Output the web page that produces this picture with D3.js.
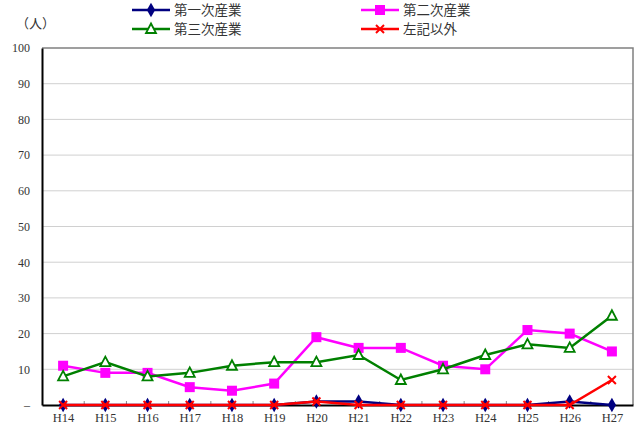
<!DOCTYPE html>
<html>
<head>
<meta charset="utf-8">
<script src="https://cdn.jsdelivr.net/npm/d3@7"></script>
<style>
  body { margin: 0; background: #fff; }
  .tick text { font-family: "Liberation Serif", "DejaVu Serif", serif; }
</style>
</head>
<body>
<div id="chart"></div>
<script>
// data
const years = ["H14","H15","H16","H17","H18","H19","H20","H21","H22","H23","H24","H25","H26","H27"];
const primary   = [0, 0, 0, 0, 0, 0, 1, 1, 0, 0, 0, 0, 1, 0];
const secondary = [11, 9, 9, 5, 4, 6, 19, 16, 16, 11, 10, 21, 20, 15];
const tertiary  = [8, 12, 8, 9, 11, 12, 12, 14, 7, 10, 14, 17, 16, 25];
const other     = [0, 0, 0, 0, 0, 0, 1, 0, 0, 0, 0, 0, 0, 7];
const yTicks = [0, 10, 20, 30, 40, 50, 60, 70, 80, 90, 100];

const series = [
  { name: "第一次産業", values: primary,   color: "#000080", marker: "diamond" },
  { name: "第二次産業", values: secondary, color: "#ff00ff", marker: "square" },
  { name: "第三次産業", values: tertiary,  color: "#008000", marker: "triangle" },
  { name: "左記以外",   values: other,     color: "#ff0000", marker: "cross" }
];

const width = 638, height = 425;
const margin = { top: 48, right: 5, bottom: 20, left: 42 };

const svg = d3.select("#chart").append("svg")
  .attr("width", width).attr("height", height);

const x = d3.scalePoint().domain(years)
  .range([margin.left, width - margin.right]).padding(0.5);
const y = d3.scaleLinear().domain([0, 100])
  .range([height - margin.bottom, margin.top]);

// grid
svg.append("g").selectAll("line")
  .data(yTicks.filter(d => d > 0 && d < 100))
  .join("line")
  .attr("x1", margin.left).attr("x2", width - margin.right)
  .attr("y1", d => y(d)).attr("y2", d => y(d))
  .attr("stroke", "#d0d0d0").attr("stroke-width", 1);

// frame top/right
svg.append("path")
  .attr("d", `M${margin.left},${y(100)}H${width - margin.right}V${y(0)}`)
  .attr("fill", "none").attr("stroke", "#808080").attr("stroke-width", 1.5);

// y axis
const yAxis = svg.append("g")
  .attr("transform", `translate(${margin.left},0)`)
  .call(d3.axisLeft(y).tickValues(yTicks).tickSize(0).tickPadding(12)
    .tickFormat(d => d === 0 ? "–" : d));
yAxis.select(".domain").attr("stroke", "#000").attr("stroke-width", 2);
yAxis.selectAll("text").attr("font-size", 12).attr("fill", "#333");

// x axis
const step = x.step();
const xAxis = svg.append("g")
  .attr("transform", `translate(0,${y(0)})`)
  .call(d3.axisBottom(x).tickSize(0).tickPadding(8));
xAxis.select(".domain").attr("stroke", "#000").attr("stroke-width", 2);
xAxis.selectAll("text").attr("font-size", 12.5).attr("fill", "#333");
// small ticks between categories
svg.append("g").selectAll("line")
  .data(years.slice(1))
  .join("line")
  .attr("x1", d => x(d) - step / 2).attr("x2", d => x(d) - step / 2)
  .attr("y1", y(0)).attr("y2", y(0) - 4)
  .attr("stroke", "#888");

const line = d3.line()
  .x((d, i) => x(years[i]))
  .y(d => y(d));

function drawMarker(g, type, color) {
  if (type === "diamond") {
    g.append("path").attr("d", d3.symbol(d3.symbolDiamond, 60)())
      .attr("fill", color);
  } else if (type === "square") {
    g.append("rect").attr("x", -5).attr("y", -5).attr("width", 10).attr("height", 10)
      .attr("fill", color);
  } else if (type === "triangle") {
    g.append("path").attr("d", "M0,-5.5L5,4L-5,4Z")
      .attr("fill", "#fff").attr("stroke", color).attr("stroke-width", 1.8);
  } else {
    g.append("path").attr("d", "M-4,-4L4,4M-4,4L4,-4")
      .attr("stroke", color).attr("stroke-width", 2);
  }
}

series.forEach(s => {
  svg.append("path")
    .datum(s.values)
    .attr("fill", "none")
    .attr("stroke", s.color)
    .attr("stroke-width", 2.5)
    .attr("d", line);
  svg.append("g").selectAll("g")
    .data(s.values)
    .join("g")
    .attr("transform", (d, i) => `translate(${x(years[i])},${y(d)})`)
    .each(function () { drawMarker(d3.select(this), s.marker, s.color); });
});

// legend
const legendPos = [[132, 10], [361, 10], [132, 29], [361, 29]];
series.forEach((s, i) => {
  const [lx, ly] = legendPos[i];
  const g = svg.append("g").attr("transform", `translate(${lx},${ly})`);
  g.append("line").attr("x1", 0).attr("x2", 38).attr("y1", 0).attr("y2", 0)
    .attr("stroke", s.color).attr("stroke-width", 2.5);
  const m = g.append("g").attr("transform", "translate(19,0)");
  drawMarker(m, s.marker, s.color);
  g.append("text").attr("x", 42).attr("y", 0).attr("dy", "0.36em")
    .attr("font-family", "'Noto Sans CJK JP', sans-serif")
    .attr("font-size", 13.5).attr("fill", "#333")
    .text(s.name);
});

svg.append("text")
  .attr("x", 16).attr("y", 28)
  .attr("font-family", "'Noto Sans CJK JP', sans-serif")
  .attr("font-size", 13).attr("fill", "#333")
  .text("（人）");
</script>
</body>
</html>
